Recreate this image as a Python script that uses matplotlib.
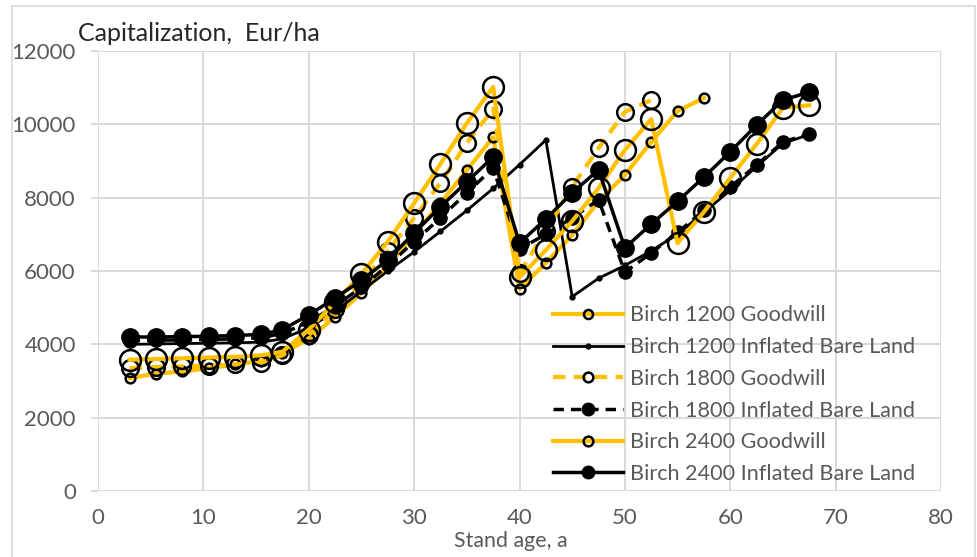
import matplotlib.pyplot as plt
from matplotlib.lines import Line2D

plt.rcParams['font.family'] = ['Lato', 'DejaVu Sans']

# stand age (a) and capitalization (Eur/ha) for each series
age_1200_gw = [3, 5.5, 8, 10.5, 13, 15.5, 17.5, 20, 22.5, 25, 27.5, 30, 32.5, 35, 37.5,
               40, 42.5, 45, 47.5, 50, 52.5, 55, 57.5]
cap_1200_gw = [3080, 3200, 3260, 3350, 3450, 3550, 3750, 4150, 4750, 5400, 6150, 7000, 7850, 8750, 9650,
               5510, 6220, 6980, 7900, 8620, 9520, 10360, 10720]

age_1200_ibl = [3, 5.5, 8, 10.5, 13, 15.5, 17.5, 20, 22.5, 25, 27.5, 30, 32.5, 35, 37.5, 40, 42.5,
                45, 47.5, 50, 52.5, 55, 57.5, 60, 62.5, 65, 67.5]
cap_1200_ibl = [4000, 4010, 4020, 4030, 4040, 4060, 4150, 4450, 4900, 5450, 6000, 6520, 7080, 7650, 8250, 8900, 9570,
                5300, 5800, 6150, 6550, 7000, 7600, 8200, 8850, 9480, 9720]

age_1800_gw = [3, 5.5, 8, 10.5, 13, 15.5, 17.5, 20, 22.5, 25, 27.5, 30, 32.5, 35, 37.5,
               40, 42.5, 45, 47.5, 50, 52.5]
cap_1800_gw = [3350, 3380, 3400, 3420, 3450, 3500, 3700, 4250, 4950, 5700, 6550, 7450, 8400, 9490, 10420,
               5950, 7100, 8300, 9350, 10340, 10660]

age_1800_ibl = [3, 5.5, 8, 10.5, 13, 15.5, 17.5, 20, 22.5, 25, 27.5, 30, 32.5, 35, 37.5,
                40, 42.5, 45, 47.5, 50, 52.5, 55, 57.5, 60, 62.5, 65, 67.5]
cap_1800_ibl = [4100, 4110, 4120, 4130, 4150, 4180, 4300, 4600, 5050, 5550, 6150, 6800, 7450, 8130, 8810,
                6600, 7000, 7450, 7940, 5970, 6490, 7050, 7650, 8290, 8890, 9520, 9740]

age_2400_gw = age_1800_ibl
cap_2400_gw = [3580, 3600, 3620, 3640, 3660, 3700, 3800, 4400, 5150, 5920, 6800, 7850, 8920, 10030, 11020,
               5830, 6570, 7360, 8260, 9300, 10140, 6760, 7610, 8540, 9460, 10450, 10520]

age_2400_ibl = age_1800_ibl
cap_2400_ibl = [4200, 4200, 4210, 4220, 4240, 4270, 4400, 4800, 5260, 5750, 6300, 7040, 7750, 8430, 9110,
                6760, 7420, 8130, 8760, 6630, 7280, 7900, 8560, 9250, 9980, 10660, 10880]

gold = '#FFC000'
grey_txt = '#595959'
grid_c = '#D9D9D9'

fig = plt.figure(figsize=(9.78, 5.57), dpi=100)
ax = fig.add_axes([0.1002, 0.1185, 0.862, 0.790])

ax.plot(age_1200_gw, cap_1200_gw, color=gold, lw=3, marker='o', ms=7, mfc='none', mec='black', mew=1.8,
        label='Birch 1200 Goodwill')
ax.plot(age_1200_ibl, cap_1200_ibl, color='black', lw=2, marker='o', ms=3.5, mfc='black', mec='black',
        label='Birch 1200 Inflated Bare Land')
ax.plot(age_1800_gw, cap_1800_gw, color=gold, lw=3, ls=(0, (3, 2)), marker='o', ms=12, mfc='none', mec='black',
        mew=1.8, label='Birch 1800 Goodwill')
ax.plot(age_1800_ibl, cap_1800_ibl, color='black', lw=2.5, ls=(0, (3, 2)), marker='o', ms=9.5, mfc='black',
        mec='black', label='Birch 1800 Inflated Bare Land')
ax.plot(age_2400_gw, cap_2400_gw, color=gold, lw=3, marker='o', ms=15, mfc='none', mec='black', mew=1.8,
        label='Birch 2400 Goodwill')
ax.plot(age_2400_ibl, cap_2400_ibl, color='black', lw=2.5, marker='o', ms=12.5, mfc='black', mec='black',
        label='Birch 2400 Inflated Bare Land')

ax.set_xlim(0, 80)
ax.set_ylim(0, 12000)
ax.set_xticks(range(0, 81, 10))
ax.set_yticks(range(0, 12001, 2000))
ax.grid(True, color=grid_c, lw=1.4)
ax.set_axisbelow(True)
for s in ax.spines.values():
    s.set_visible(False)
ax.tick_params(axis='y', length=5, color=grid_c, width=1.4, labelsize=16, labelcolor=grey_txt, pad=11)
ax.tick_params(axis='x', length=0, labelsize=16, labelcolor=grey_txt, pad=12)

ax.set_xlabel('Stand age, a', fontsize=15.4, color=grey_txt)
ax.xaxis.set_label_coords(0.49, -0.092)

fig.text(0.08, 0.94, 'Capitalization,  Eur/ha', fontsize=18, color='#262626', va='center')

leg = ax.legend(loc='lower left', bbox_to_anchor=(0.54, 0.016), frameon=False, fontsize=15.6,
                handlelength=3.2, handletextpad=0.32, labelspacing=0.54, borderpad=0, borderaxespad=0)
for t in leg.get_texts():
    t.set_color(grey_txt)
for ln, ms in zip(leg.get_lines(), [6.5, 3.5, 7, 9, 7, 9]):
    ln.set_markersize(ms)

# light frame around the whole chart
fig.add_artist(Line2D([0.012, 0.012], [0.0, 0.99], color=grid_c, lw=1.2, transform=fig.transFigure))
fig.add_artist(Line2D([0.012, 0.997], [0.99, 0.99], color=grid_c, lw=1.2, transform=fig.transFigure))
fig.add_artist(Line2D([0.997, 0.997], [0.0, 0.99], color=grid_c, lw=1.2, transform=fig.transFigure))

fig.savefig('out.png', dpi=100)
